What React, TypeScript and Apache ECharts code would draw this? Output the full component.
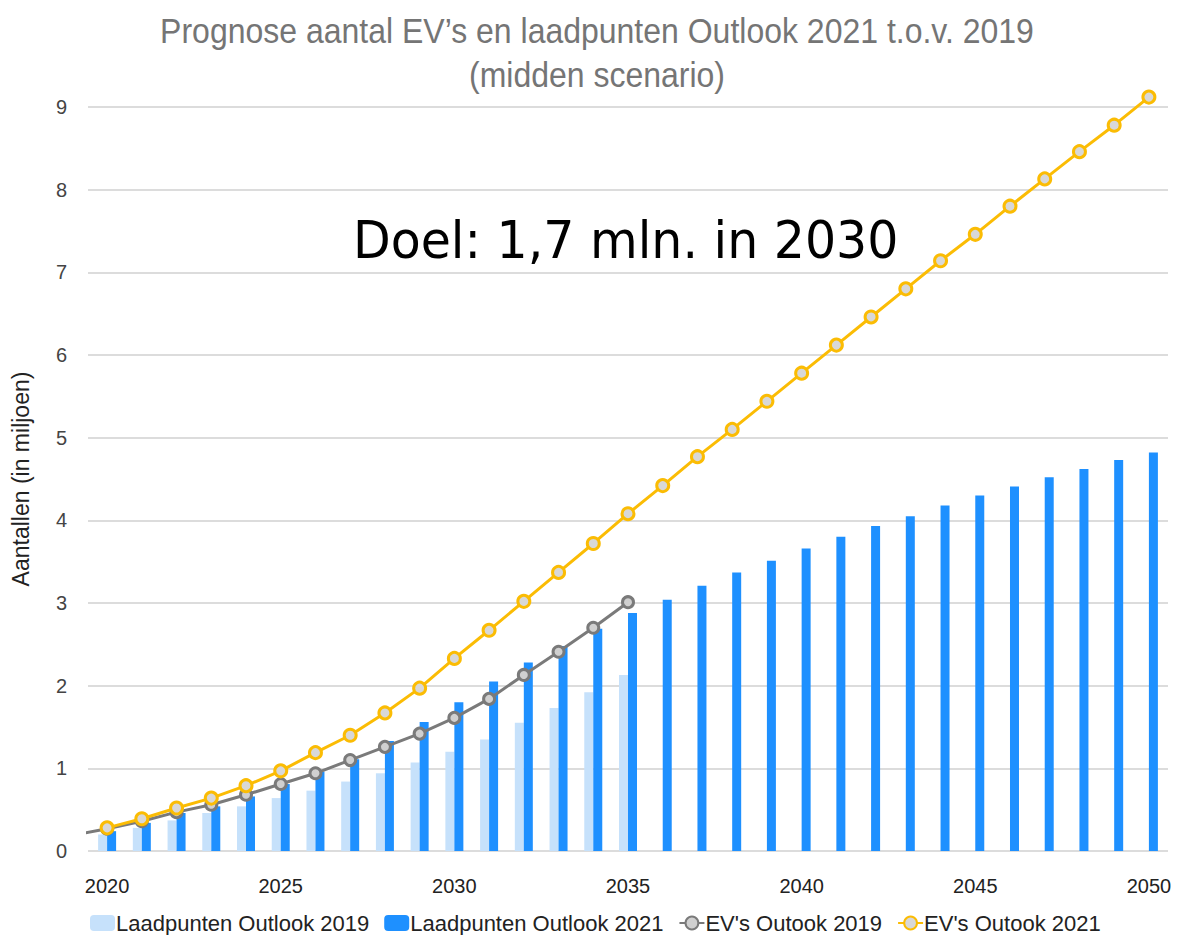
import React, { useEffect, useRef } from "react";
import * as echarts from "echarts";

const years = [2020, 2021, 2022, 2023, 2024, 2025, 2026, 2027, 2028, 2029, 2030, 2031, 2032, 2033, 2034, 2035, 2036, 2037, 2038, 2039, 2040, 2041, 2042, 2043, 2044, 2045, 2046, 2047, 2048, 2049, 2050];

const laadpunten2019 = [0.2, 0.28, 0.37, 0.46, 0.54, 0.64, 0.73, 0.84, 0.94, 1.07, 1.2, 1.35, 1.55, 1.73, 1.92, 2.13];
const laadpunten2021 = [0.24, 0.34, 0.46, 0.54, 0.66, 0.81, 0.96, 1.11, 1.33, 1.56, 1.8, 2.05, 2.28, 2.48, 2.69, 2.88, 3.04, 3.21, 3.37, 3.51, 3.66, 3.8, 3.93, 4.05, 4.18, 4.3, 4.41, 4.52, 4.62, 4.73, 4.82];
const evYears2019 = [2019, 2020, 2021, 2022, 2023, 2024, 2025, 2026, 2027, 2028, 2029, 2030, 2031, 2032, 2033, 2034, 2035];
const ev2019 = [0.19, 0.27, 0.36, 0.47, 0.56, 0.68, 0.81, 0.94, 1.1, 1.26, 1.42, 1.61, 1.84, 2.13, 2.41, 2.7, 3.01];
const ev2021 = [0.28, 0.39, 0.52, 0.64, 0.79, 0.97, 1.19, 1.4, 1.67, 1.97, 2.33, 2.67, 3.02, 3.37, 3.72, 4.08, 4.42, 4.77, 5.1, 5.44, 5.78, 6.12, 6.46, 6.8, 7.14, 7.46, 7.8, 8.13, 8.46, 8.78, 9.12];

const xTickLabels = [2020, 2025, 2030, 2035, 2040, 2045, 2050];
const yTicks = [0, 1, 2, 3, 4, 5, 6, 7, 8, 9];

const titleText = "Prognose aantal EV\u2019s en laadpunten Outlook 2021 t.o.v. 2019\n(midden scenario)";
const goalText = "Doel: 1,7 mln. in 2030";
const yAxisName = "Aantallen (in miljoen)";
const seriesNames = ["Laadpunten Outlook 2019", "Laadpunten Outlook 2021", "EV's Outook 2019", "EV's Outook 2021"];

export default function App() {
  const ref = useRef<HTMLDivElement>(null);
  useEffect(() => {
    if (!ref.current) return;
    const chart = echarts.init(ref.current, null, { renderer: "svg" });
    const font = "'Liberation Sans', Arial, sans-serif";
    chart.setOption({
      animation: false,
      backgroundColor: "#ffffff",
      graphic: [
        {
          type: "text",
          x: 597,
          y: 9,
          scaleY: 1.1,
          style: {
            text: titleText,
            fill: "#757575",
            font: "32px 'Liberation Sans', Arial, sans-serif",
            lineHeight: 40,
            align: "center",
            verticalAlign: "top",
          },
        },
        {
          type: "text",
          x: 353,
          y: 214,
          scaleY: 1.07,
          style: {
            text: goalText,
            fill: "#000000",
            font: "49px 'DejaVu Sans', Verdana, sans-serif",
            align: "left",
            verticalAlign: "top",
          },
        },
      ],
      legend: {
        top: 907,
        left: 85,
        itemWidth: 25,
        itemHeight: 16,
        itemGap: 15,
        textStyle: { color: "#222222", fontFamily: font, fontSize: 22, padding: [0, 0, 0, -4] },
        data: seriesNames,
      },
      grid: { left: 88, right: 12, top: 107, bottom: 84, containLabel: false },
      xAxis: {
        type: "value",
        min: 2019.45,
        max: 2050.55,
        axisLine: { show: false },
        axisTick: { show: false },
        splitLine: { show: false },
        axisLabel: {
          customValues: xTickLabels,
          color: "#222222",
          fontFamily: font,
          fontSize: 20,
          margin: 25,
          formatter: (v: number) => String(v),
        },
      },
      yAxis: {
        type: "value",
        min: 0,
        max: 9,
        interval: 1,
        name: yAxisName,
        nameLocation: "middle",
        nameGap: 56,
        nameTextStyle: { color: "#222222", fontFamily: font, fontSize: 23 },
        axisLine: { show: false },
        axisTick: { show: false },
        axisLabel: {
          customValues: yTicks,
          color: "#444444",
          fontFamily: font,
          fontSize: 20,
          margin: 21,
        },
        splitLine: { lineStyle: { color: "#dcdcdc", width: 2 } },
      },
      series: [
        {
          name: seriesNames[0],
          type: "bar",
          data: laadpunten2019.map((v, i) => [years[i], v]),
          barWidth: 9,
          barGap: "0%",
          itemStyle: { color: "#c6e1fb" },
        },
        {
          name: seriesNames[1],
          type: "bar",
          data: laadpunten2021.map((v, i) => [years[i], v]),
          barWidth: 9,
          barGap: "0%",
          itemStyle: { color: "#1e90ff" },
        },
        {
          name: seriesNames[2],
          type: "line",
          clip: true,
          data: ev2019.map((v, i) => [evYears2019[i], v]),
          symbol: "circle",
          symbolSize: 11,
          showAllSymbol: true,
          lineStyle: { color: "#7a7a7a", width: 3 },
          itemStyle: { color: "#d0d0d0", borderColor: "#7a7a7a", borderWidth: 3 },
          z: 3,
        },
        {
          name: seriesNames[3],
          type: "line",
          clip: false,
          data: ev2021.map((v, i) => [years[i], v]),
          symbol: "circle",
          symbolSize: 12,
          showAllSymbol: true,
          lineStyle: { color: "#fbbc04", width: 3 },
          itemStyle: { color: "#d8d8d8", borderColor: "#fbbc04", borderWidth: 3 },
          z: 4,
        },
      ],
    });
    return () => chart.dispose();
  }, []);
  return (
    <div
      ref={ref}
      style={{ position: "fixed", left: 0, top: 0, width: 1180, height: 935 }}
    />
  );
}
